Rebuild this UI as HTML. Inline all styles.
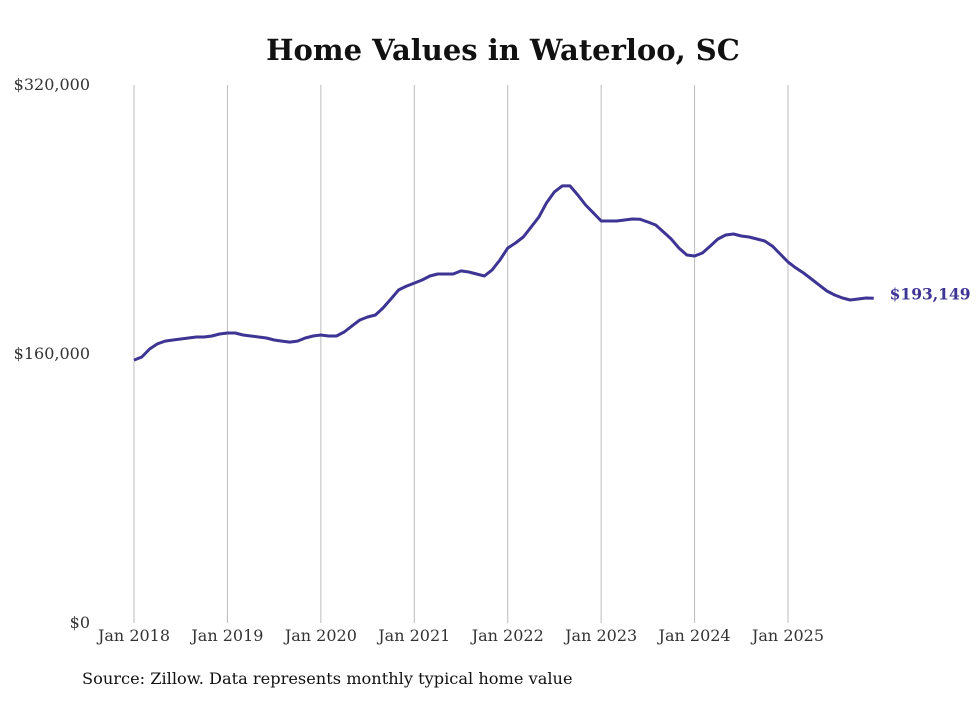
<!DOCTYPE html>
<html><head><meta charset="utf-8"><style>
body{margin:0;background:#fff;width:980px;height:699px;overflow:hidden;font-family:"DejaVu Serif",serif;}
</style></head><body>
<svg width="980" height="699" font-family="DejaVu Serif, serif">
<text x="503" y="60" text-anchor="middle" font-size="29" font-weight="bold" fill="#111">Home Values in Waterloo, SC</text>
<g id="grid"></g><g id="yticks"></g><g id="xticks"></g>
<path id="line" fill="none" stroke="#3d3494" stroke-width="3" stroke-linejoin="round"/>
<text id="endlabel" font-size="15.5" font-weight="bold" fill="#3d3494"></text>
<text x="82" y="684" font-size="16.2" fill="#111">Source: Zillow. Data represents monthly typical home value</text>
</svg>
<script>
const startYear = 2018;
const xTickLabels = ["Jan 2018","Jan 2019","Jan 2020","Jan 2021","Jan 2022","Jan 2023","Jan 2024","Jan 2025"];
const yTickValues = [0,160000,320000];
const yTickLabels = ["$0","$160,000","$320,000"];
const values = [156.4,158.2,163.0,166.0,167.7,168.3,168.9,169.5,170.1,170.1,170.7,171.9,
172.5,172.5,171.3,170.7,170.1,169.5,168.3,167.7,167.1,167.7,169.5,170.7,
171.3,170.7,170.7,173.1,176.7,180.2,182.0,183.2,187.4,192.7,198.1,200.4,
202.2,204.0,206.4,207.6,207.6,207.6,209.4,208.8,207.6,206.4,210.0,215.9,
223.0,226.0,229.6,235.5,241.5,250.0,256.4,260.0,260.0,254.6,248.6,243.9,
239.1,239.1,239.1,239.7,240.3,240.1,238.5,236.7,232.6,228.4,223.0,218.9,
218.3,220.1,224.2,228.4,230.8,231.4,230.2,229.6,228.4,227.2,224.2,219.5,
214.7,211.2,208.2,204.6,201.0,197.5,195.1,193.3,192.1,192.7,193.3,193.149].map(v=>v*1000);
const X0=134, XPY=93.43, Y0=623, Y1=85, YMAX=320000;
const xs = m => X0 + m/12*XPY;
const ys = v => Y0 - v/YMAX*(Y0-Y1);
const NS="http://www.w3.org/2000/svg";
const grid=document.getElementById('grid'), xt=document.getElementById('xticks'), yt=document.getElementById('yticks');
xTickLabels.forEach((l,i)=>{
  const x=xs(i*12);
  const ln=document.createElementNS(NS,'line');
  ln.setAttribute('x1',x);ln.setAttribute('x2',x);ln.setAttribute('y1',Y1);ln.setAttribute('y2',Y0);
  ln.setAttribute('stroke','#bbb');ln.setAttribute('stroke-width','1');
  
  
  grid.appendChild(ln);
  const t=document.createElementNS(NS,'text');
  t.setAttribute('x',x);t.setAttribute('y',641);t.setAttribute('text-anchor','middle');
  t.setAttribute('font-size','16');t.setAttribute('fill','#333');t.textContent=l;
  
  
  xt.appendChild(t);
});
yTickValues.forEach((v,i)=>{
  const t=document.createElementNS(NS,'text');
  t.setAttribute('x',90);t.setAttribute('y',ys(v)+5);t.setAttribute('text-anchor','end');
  t.setAttribute('font-size','16');t.setAttribute('fill','#333');t.textContent=yTickLabels[i];
  
  
  yt.appendChild(t);
});
document.getElementById('line').setAttribute('d',values.map((v,i)=>(i?'L':'M')+xs(i).toFixed(1)+','+ys(v).toFixed(1)).join(''));
const last=values.length-1, el=document.getElementById('endlabel');
el.setAttribute('x',xs(last)+16);el.setAttribute('y',ys(values[last])+1);
el.textContent='$'+Math.round(values[last]).toLocaleString('en-US');
</script>
</body></html>
